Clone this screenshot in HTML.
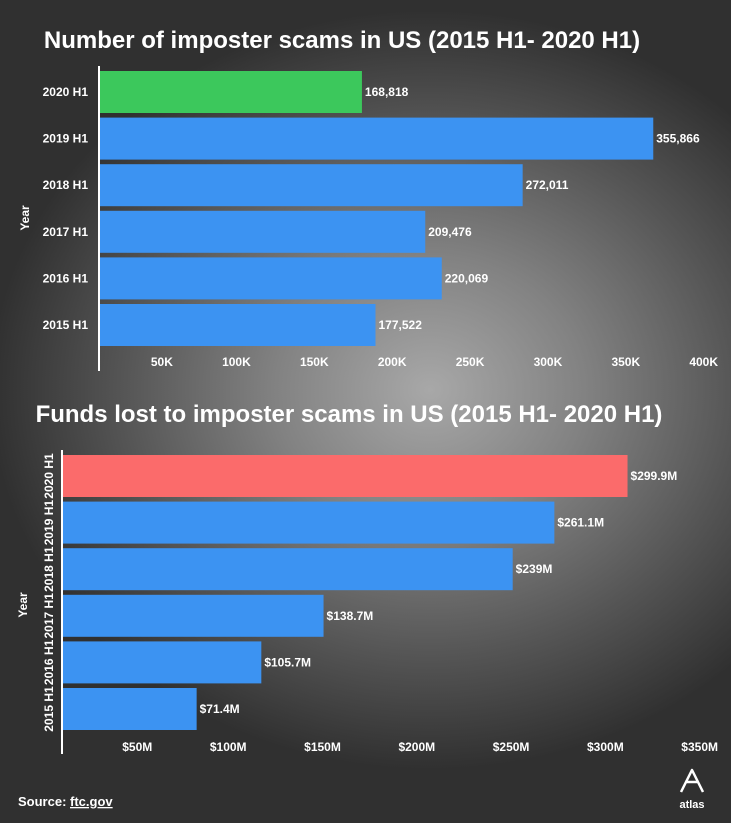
<!DOCTYPE html>
<html><head><meta charset="utf-8"><style>
html,body{margin:0;padding:0}
body{width:731px;height:823px;overflow:hidden;font-family:"Liberation Sans",sans-serif;
background:radial-gradient(ellipse 440px 380px at 430px 390px,#a8a8a8 0%,#828282 35%,#555 70%,#303030 100%);}
svg{position:absolute;left:0;top:0}
text{font-family:"Liberation Sans",sans-serif;fill:#fff;font-weight:bold}
</style></head><body>
<svg id="c" width="731" height="823">
<text x="342" y="48" font-size="24" text-anchor="middle">Number of imposter scams in US (2015 H1- 2020 H1)</text>
<text x="349" y="422" font-size="24" text-anchor="middle">Funds lost to imposter scams in US (2015 H1- 2020 H1)</text>
<text x="18" y="806" font-size="13">Source: <tspan text-decoration="underline">ftc.gov</tspan></text>
<g>
<path d="M681 792 L692 770 L703 792 M686 782 L698 782" stroke="#fff" stroke-width="2.5" fill="none" stroke-linejoin="round"/>
<text x="692" y="808" font-size="11" text-anchor="middle">atlas</text></g>
</svg>
<script>
const topCats=["2020 H1","2019 H1","2018 H1","2017 H1","2016 H1","2015 H1"];
const topVals=[168818,355866,272011,209476,220069,177522];
const topLabels=["168,818","355,866","272,011","209,476","220,069","177,522"];
const topTicks=[50000,100000,150000,200000,250000,300000,350000,400000];
const topTickLabels=["50K","100K","150K","200K","250K","300K","350K","400K"];
const botCats=["2020 H1","2019 H1","2018 H1","2017 H1","2016 H1","2015 H1"];
const botVals=[299.9,261.1,239,138.7,105.7,71.4];
const botLabels=["$299.9M","$261.1M","$239M","$138.7M","$105.7M","$71.4M"];
const botTicks=[50,100,150,200,250,300,350];
const botTickLabels=["$50M","$100M","$150M","$200M","$250M","$300M","$350M"];
const NS="http://www.w3.org/2000/svg",svg=document.getElementById('c');
function mk(t,a,txt){const e=document.createElementNS(NS,t);for(const k in a)e.setAttribute(k,a[k]);if(txt!=null)e.textContent=txt;svg.appendChild(e);return e;}
function chart(o){
  const x=v=>o.x0+v*(o.x1-o.x0)/o.max;
  const y=i=>o.y0+i*o.pitch;
  o.ticks.forEach((t,i)=>{
    const l=mk('text',{x:x(t)-4,y:o.tickY,'font-size':12,'text-anchor':'end'},o.tickLabels[i]);
    
    
  });
  o.vals.forEach((v,i)=>{
    const r=mk('rect',{x:o.x0,y:y(i),width:x(v)-o.x0,height:o.bh,fill:i==0?o.hi:'#3c93f2'});
    
    
    const t=mk('text',{x:x(v)+3,y:y(i)+o.bh/2+4,'font-size':12},o.labels[i]);
    
    
    let c;
    if(o.rot){c=mk('text',{x:0,y:0,'font-size':12,'text-anchor':'middle',transform:`translate(${o.x0-9},${y(i)+o.bh/2}) rotate(-90)`},o.cats[i]);}
    else{c=mk('text',{x:o.x0-11,y:y(i)+o.bh/2+4,'font-size':12,'text-anchor':'end'},o.cats[i]);}
    
    
  });
  const ax=mk('line',{x1:o.x0,x2:o.x0,y1:o.ay0,y2:o.ay1,stroke:'#fff','stroke-width':2});
  
  
  const yt=mk('text',{x:0,y:0,'font-size':12,'text-anchor':'middle',transform:`translate(${o.yTitleX},${o.yTitleY}) rotate(-90)`},'Year');
  
  
}
chart({p:'top-',cats:topCats,vals:topVals,labels:topLabels,ticks:topTicks,tickLabels:topTickLabels,
  x0:99,x1:722,max:400000,y0:71,pitch:46.6,bh:42,tickY:366,ay0:66,ay1:371,hi:'#3cc85c',rot:false,yTitleX:29,yTitleY:218});
chart({p:'bottom-',cats:botCats,vals:botVals,labels:botLabels,ticks:botTicks,tickLabels:botTickLabels,
  x0:62,x1:722,max:350,y0:455,pitch:46.6,bh:42,tickY:751,ay0:450,ay1:754,hi:'#fb6b6b',rot:true,yTitleX:27,yTitleY:605});
</script>
</body></html>
